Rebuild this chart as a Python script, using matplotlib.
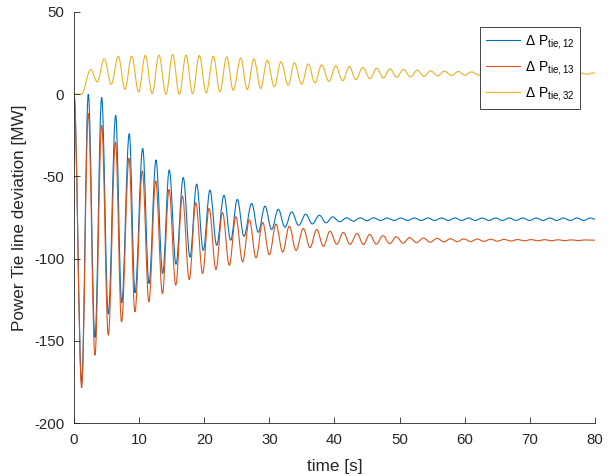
import matplotlib
matplotlib.use('Agg')
import matplotlib.pyplot as plt
from matplotlib.lines import Line2D
from matplotlib.patches import PathPatch
from matplotlib.path import Path

plt.rcParams['font.family'] = ['Liberation Sans', 'DejaVu Sans']
plt.rcParams['mathtext.default'] = 'regular'
plt.rcParams['axes.unicode_minus'] = False

# extrema (time [s], deviation [MW])
t12 = [0, 1.18, 2.2, 3.22, 4.25, 5.27, 6.4, 7.32, 8.49, 9.37,
       10.55, 11.52, 12.59, 13.62, 14.63, 15.66, 16.78, 17.81, 18.84, 19.85,
       20.88, 21.91, 23.03, 24.06, 25.08, 26.1, 27.29, 28.3, 29.33, 30.35,
       31.37, 32.4, 33.43, 34.5, 35.58, 36.6, 37.67, 38.7, 39.72, 40.8,
       41.87, 42.9, 43.95, 45.0, 46.03, 47.07, 48.11, 49.15, 50.19, 51.23,
       52.27, 53.31, 54.35, 55.39, 56.43, 57.47, 58.51, 59.55, 60.59, 61.63,
       62.67, 63.71, 64.75, 65.79, 66.83, 67.87, 68.91, 69.95, 70.99, 72.03,
       73.07, 74.11, 75.15, 76.19, 77.23, 78.27, 79.31, 80.0]
p12 = [0, -175, 0, -148, -2, -133.8, -12.8, -126.9, -24, -120.8,
       -33, -115.1, -40, -109, -46, -103.4, -50.7, -99, -54.7, -95,
       -58.4, -91.8, -61.6, -88.8, -64, -86.4, -66.5, -84, -68.1, -82.3,
       -70, -80.9, -71.6, -79.8, -73, -78.9, -73.6, -78.2, -74.6, -77.6,
       -75.2, -77.2, -75.2, -76.9, -75.2, -76.8, -75.3, -76.8, -75.3, -76.8,
       -75.3, -76.8, -75.3, -76.8, -75.3, -76.8, -75.3, -76.8, -75.3, -76.8,
       -75.3, -76.8, -75.3, -76.8, -75.3, -76.8, -75.3, -76.8, -75.3, -76.8,
       -75.3, -76.8, -75.3, -76.8, -75.3, -76.8, -75.3, -76.0]

t13 = [0, 1.18, 2.2, 3.22, 4.25, 5.27, 6.37, 7.3, 8.45, 9.35,
       10.5, 11.5, 12.55, 13.58, 14.6, 15.62, 16.65, 17.7, 18.7, 19.75,
       20.75, 21.8, 22.8, 23.85, 24.85, 25.9, 26.93, 27.95, 28.97, 30.0,
       31.02, 32.05, 33.06, 34.1, 35.21, 36.25, 37.27, 38.3, 39.31, 40.35,
       41.35, 42.4, 43.45, 44.45, 45.4, 46.43, 47.45, 48.48, 49.5, 50.53,
       51.55, 52.6, 53.65, 54.7, 55.75, 56.78, 57.8, 58.83, 59.86, 60.9,
       61.93, 62.96, 64.0, 65.03, 66.06, 67.1, 68.13, 69.16, 70.2, 71.23,
       72.26, 73.3, 74.33, 75.36, 76.4, 77.43, 78.46, 80.0]
p13 = [0, -178.4, -11.7, -158.8, -18.9, -146.6, -29, -138.5, -39, -132.4,
       -46.6, -126.3, -52.7, -121.2, -58, -116.1, -62, -112.7, -66, -109,
       -69.5, -106.6, -72, -104, -74.6, -102, -76.4, -99.5, -78, -97.6,
       -79, -96, -80.3, -95, -81.7, -93.3, -82.3, -92.5, -83.3, -91.2,
       -84.1, -91.3, -84.7, -91.4, -85.3, -91.2, -86.0, -90.9, -86.7, -90.6,
       -87.2, -90.3, -87.5, -90.0, -87.7, -89.8, -87.9, -89.7, -88.0, -89.6,
       -88.1, -89.5, -88.2, -89.4, -88.3, -89.3, -88.4, -89.2, -88.45, -89.15,
       -88.5, -89.1, -88.55, -89.05, -88.6, -89.0, -88.65, -88.8]

t32 = [0, 1.15, 2.56, 3.57, 4.65, 5.72, 6.8, 7.83, 8.86, 9.93,
       10.95, 12.0, 13.05, 14.13, 15.15, 16.18, 17.2, 18.22, 19.25, 20.3,
       21.4, 22.4, 23.45, 24.46, 25.6, 26.6, 27.64, 28.66, 29.68, 30.76,
       31.79, 32.9, 33.83, 34.96, 35.98, 37.0, 38.03, 39.16, 40.18, 41.26,
       42.27, 43.3, 44.33, 45.45, 46.48, 47.5, 48.52, 49.55, 50.56, 51.7,
       52.71, 53.74, 54.77, 55.85, 56.86, 58.0, 59.0, 60.04, 61.07, 62.1,
       63.14, 64.18, 65.22, 66.26, 67.3, 68.34, 69.38, 70.42, 71.46, 72.5,
       73.54, 74.58, 75.62, 76.66, 77.7, 78.74, 79.78, 80.0]
p32 = [0, 0, 15, 7.5, 21.5, 6.1, 23.1, 3, 23.1, 1.4,
       23.5, 0.4, 23.7, 0, 24.1, 0, 23.7, 0.4, 23.5, 0.8,
       23.1, 1.4, 22.7, 2.4, 22, 2.9, 21.5, 3.5, 20.6, 4.5,
       19.7, 5.5, 19.1, 6.1, 18.4, 6.9, 17.8, 7.7, 17.2, 8.3,
       16.8, 8.9, 16.2, 9.5, 15.8, 9.9, 15.4, 10.3, 15.0, 10.5,
       14.6, 10.9, 14.2, 11.1, 14.0, 11.4, 13.8, 11.6, 13.6, 11.7,
       13.5, 11.8, 13.4, 11.9, 13.3, 12.0, 13.2, 12.05, 13.15, 12.1,
       13.1, 12.15, 13.05, 12.2, 13.0, 12.2, 12.95, 12.6]

labels = ['\u0394 P$_{tie,12}$', '\u0394 P$_{tie,13}$', '\u0394 P$_{tie,32}$']
colors = ['#0072BD', '#D95319', '#EDB120']
txt = '#262626'
lw = 0.8


def wave(t, p):
    # smooth curve through the extrema: flat tangent at every peak/trough
    verts = [(t[0], p[0])]
    codes = [Path.MOVETO]
    for i in range(len(t) - 1):
        dt = t[i + 1] - t[i]
        verts += [(t[i] + 0.363 * dt, p[i]), (t[i + 1] - 0.363 * dt, p[i + 1]), (t[i + 1], p[i + 1])]
        codes += [Path.CURVE4] * 3
    return Path(verts, codes)


fig = plt.figure(figsize=(6.14, 4.76), dpi=100)
ax = fig.add_axes([0.1205, 0.1113, 0.8485, 0.8635])

handles = []
for t, p, c, lab in zip([t12, t13, t32], [p12, p13, p32], colors, labels):
    ax.add_patch(PathPatch(wave(t, p), fill=False, edgecolor=c, lw=lw))
    handles.append(Line2D([], [], color=c, lw=lw, label=lab))

ax.set_xlim(0, 80)
ax.set_ylim(-200, 50)
ax.set_xticks(range(0, 81, 10))
ax.set_yticks(range(-200, 51, 50))
ax.spines['top'].set_visible(False)
ax.spines['right'].set_visible(False)
for s in ['left', 'bottom']:
    ax.spines[s].set_color(txt)
    ax.spines[s].set_linewidth(0.6)
ax.tick_params(direction='in', length=4, width=0.6, colors=txt, labelsize=10.8, pad=7)

ax.set_xlabel('time [s]', fontsize=12.3, color=txt, labelpad=9)
ax.set_ylabel('Power Tie line deviation [MW]', fontsize=12.3, color=txt, labelpad=5)

leg = ax.legend(handles=handles, loc='upper right', bbox_to_anchor=(0.971, 0.9635), borderaxespad=0,
                fontsize=10, fancybox=False, framealpha=1, edgecolor=txt,
                handlelength=2.5, handletextpad=0.3, labelspacing=0.6)
leg.get_frame().set_linewidth(0.6)

fig.savefig('out.png', dpi=100)
